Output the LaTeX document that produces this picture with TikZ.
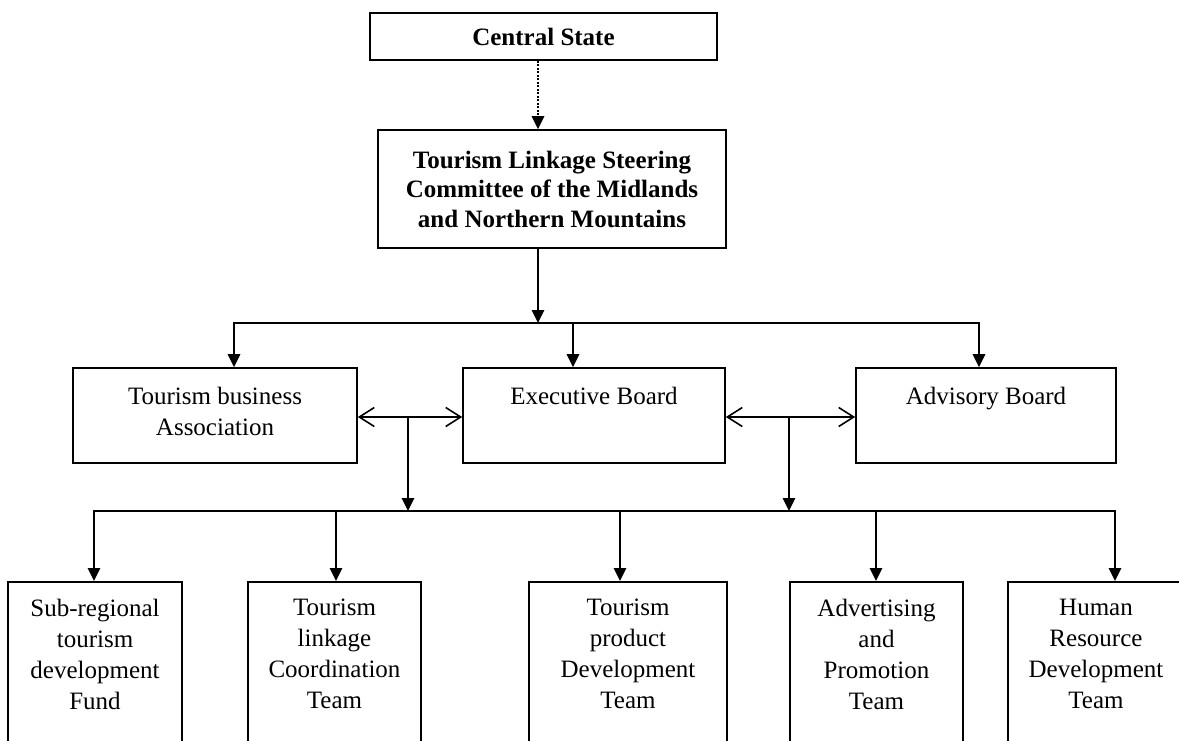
\documentclass[tikz,border=0pt]{standalone}
\usepackage{fontspec}
\setmainfont{Liberation Serif}
\usetikzlibrary{arrows.meta}

\begin{document}
\begin{tikzpicture}[x=1pt, y=-1pt, line width=1.6pt,
  box/.style={draw, rectangle, align=center, inner sep=0pt, font=\fontsize{25}{31}\selectfont},
  headbox/.style={box, font=\fontsize{25}{29.5}\selectfont\bfseries},
  boardbox/.style={box, minimum height=95pt},
  teambox/.style={box, anchor=north, inner ysep=17pt, text depth=150pt},
  tip/.style={-{Triangle[length=13pt,width=12.5pt]}},
  twoway/.style={{Straight Barb[length=15pt,width=19pt]}-{Straight Barb[length=15pt,width=19pt]}}]
\useasboundingbox (0,0) rectangle (1179,740);

% Top of the chart
\node[headbox, minimum width=347pt, minimum height=47pt] (cs) at (543.5,36.5) {Central State};
\node[headbox, minimum width=348pt, minimum height=118pt] (tl) at (552,189)
  {Tourism Linkage Steering\\Committee of the Midlands\\and Northern Mountains};

% Boards
\node[boardbox, minimum width=284pt] (tba) at (215,415.5) {Tourism business\\Association\strut};
\node[boardbox, minimum width=262pt] (ex) at (594,415.5) {Executive Board\\\strut};
\node[boardbox, minimum width=260pt] (adv) at (986,415.5) {Advisory Board\\\strut};

% Teams
\node[teambox, minimum width=174pt] (b1) at (95,581) {Sub-regional\\tourism\\development\\Fund};
\node[teambox, minimum width=173pt] (b2) at (334.5,581) {Tourism\\linkage\\Coordination\\Team};
\node[teambox, minimum width=198pt] (b3) at (628,581) {Tourism\\product\\Development\\Team};
\node[teambox, minimum width=173pt] (b4) at (876.5,581) {Advertising\\and\\Promotion\\Team};
\node[teambox, minimum width=176pt] (b5) at (1096,581) {Human\\Resource\\Development\\Team};

% Branch points
\coordinate (trunk) at (538,323);
\coordinate (busL) at (234,323);
\coordinate (busM) at (573,323);
\coordinate (busR) at (979,323);
\coordinate (j1) at (408,417);
\coordinate (j2) at (789,417);
\coordinate (teamL) at (94,511);
\coordinate (teamR) at (1115,511);

% Connectors
\draw[tip, dash pattern=on 2pt off 1.5pt] (cs.south -| trunk) -- (tl.north -| trunk);
\draw[tip] (tl.south -| trunk) -- (trunk);
\draw[tip] (busM) -- (busL) -- (busL |- tba.north);
\draw[tip] (busM) -- (busR) -- (busR |- adv.north);
\draw[tip] (busM) -- (busM |- ex.north);

\draw[twoway] (tba.east |- j1) -- (ex.west |- j1);
\draw[twoway] (ex.east |- j2) -- (adv.west |- j2);
\draw[tip] (j1) -- (j1 |- teamL);
\draw[tip] (j2) -- (j2 |- teamL);

\draw[tip] (j1 |- teamL) -- (teamL) -- (teamL |- b1.north);
\draw[tip] (j1 |- teamL) -- (teamR) -- (teamR |- b5.north);
\foreach \b/\x in {b2/336, b3/620, b4/876}
  \draw[tip] (\x,511) -- (b1.north -| \x,511);
\end{tikzpicture}
\end{document}
